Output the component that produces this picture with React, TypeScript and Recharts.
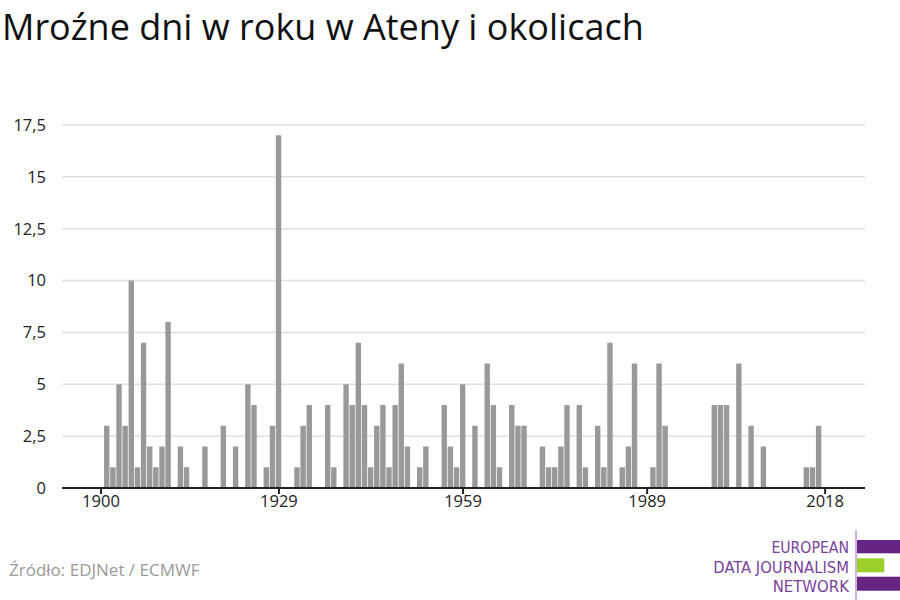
import React from "react";
import { BarChart, Bar, XAxis, YAxis, CartesianGrid } from "recharts";

const title = "Mroźne dni w roku w Ateny i okolicach";
const source = "Źródło: EDJNet / ECMWF";
const logoLines = ["EUROPEAN", "DATA JOURNALISM", "NETWORK"];

const years: number[] = [];
for (let y = 1900; y <= 2018; y++) years.push(y);

const frostDays: number[] = [
  // 1900-1909
  0, 3, 1, 5, 3, 10, 1, 7, 2, 1,
  // 1910-1919
  2, 8, 0, 2, 1, 0, 0, 2, 0, 0,
  // 1920-1929
  3, 0, 2, 0, 5, 4, 0, 1, 3, 17,
  // 1930-1939
  0, 0, 1, 3, 4, 0, 0, 4, 1, 0,
  // 1940-1949
  5, 4, 7, 4, 1, 3, 4, 1, 4, 6,
  // 1950-1959
  2, 0, 1, 2, 0, 0, 4, 2, 1, 5,
  // 1960-1969
  0, 3, 0, 6, 4, 1, 0, 4, 3, 3,
  // 1970-1979
  0, 0, 2, 1, 1, 2, 4, 0, 4, 1,
  // 1980-1989
  0, 3, 1, 7, 0, 1, 2, 6, 0, 0,
  // 1990-1999
  1, 6, 3, 0, 0, 0, 0, 0, 0, 0,
  // 2000-2009
  4, 4, 4, 0, 6, 0, 3, 0, 2, 0,
  // 2010-2018
  0, 0, 0, 0, 0, 1, 1, 3, 0,
];

const xTicks = [1900, 1929, 1959, 1989, 2018];
const yTicks = [0, 2.5, 5, 7.5, 10, 12.5, 15, 17.5];

const data = years.map((year, i) => ({ year, days: frostDays[i] }));

const FONT = "'Open Sans', 'Noto Sans', sans-serif";
const LOGO_FONT = "'DejaVu Sans Condensed', 'Liberation Sans Narrow', sans-serif";

export default function App() {
  return (
    <div style={{ position: "absolute", left: 0, top: 0, width: 900, height: 600, background: "#fff" }}>
      <BarChart
        width={900}
        height={600}
        data={data}
        margin={{ top: 125, right: 35, left: 0, bottom: 82 }}
        style={{ fontFamily: FONT }}
      >
        <CartesianGrid horizontal vertical={false} stroke="#e0e0e0" strokeWidth={1.5} />
        <XAxis
          dataKey="year"
          type="number"
          domain={[1893.65, 2024.5]}
          ticks={xTicks}
          interval={0}
          height={30}
          axisLine={{ stroke: "#222", strokeWidth: 2 }}
          tickLine={{ stroke: "#222", strokeWidth: 2 }}
          tickSize={6}
          tickMargin={1}
          tick={{ fill: "#222", fontSize: 16.5, fontFamily: FONT }}
          allowDataOverflow
        />
        <YAxis
          type="number"
          domain={[0, 17.5]}
          ticks={yTicks}
          interval={0}
          width={62}
          axisLine={false}
          tickLine={false}
          tickSize={0}
          tickMargin={16}
          tick={{ fill: "#222", fontSize: 16.5, fontFamily: FONT }}
          tickFormatter={(v: number) => String(v).replace(".", ",")}
        />
        <Bar dataKey="days" fill="#999999" barSize={5.4} isAnimationActive={false} />
      </BarChart>
      <svg
        width={900}
        height={600}
        style={{ position: "absolute", left: 0, top: 0, pointerEvents: "none" }}
      >
        <text x={2} y={39.5} fontSize={36} fontFamily={FONT} fill="#111">
          {title}
        </text>
        <text x={9} y={576} fontSize={17} fontFamily={FONT} fill="#9a9a9a">
          {source}
        </text>
        <line x1={856} y1={530} x2={856} y2={600} stroke="#9b6bb5" strokeWidth={1} />
        <rect x={857} y={540} width={43} height={13.3} fill="#662483" />
        <rect x={857} y={558.3} width={27.3} height={14} fill="#9bd12a" />
        <rect x={857} y={576.7} width={43} height={14} fill="#662483" />
        <text x={849} y={553.3} textAnchor="end" fontSize={16} fontFamily={LOGO_FONT} fill="#7b3f9d" textLength={77.6} lengthAdjust="spacingAndGlyphs">
          {logoLines[0]}
        </text>
        <text x={849} y={572.7} textAnchor="end" fontSize={16} fontFamily={LOGO_FONT} fill="#7b3f9d" textLength={135.7} lengthAdjust="spacingAndGlyphs">
          {logoLines[1]}
        </text>
        <text x={849} y={591.7} textAnchor="end" fontSize={16} fontFamily={LOGO_FONT} fill="#7b3f9d" textLength={76.3} lengthAdjust="spacingAndGlyphs">
          {logoLines[2]}
        </text>
      </svg>
    </div>
  );
}
